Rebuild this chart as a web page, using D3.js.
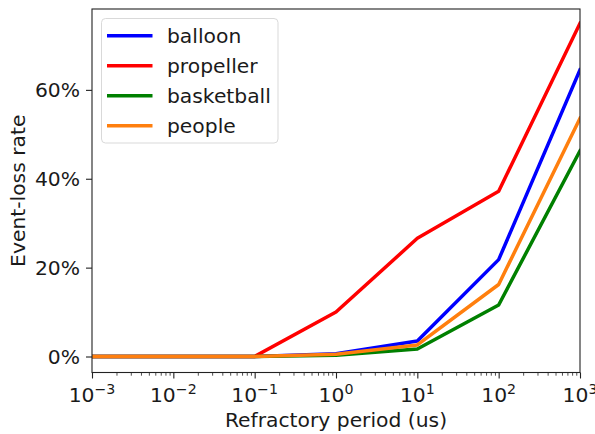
<!DOCTYPE html>
<html>
<head>
<meta charset="utf-8">
<script src="https://cdn.jsdelivr.net/npm/d3@7"></script>
<style>
  html, body { margin: 0; padding: 0; background: #fff; }
  svg { display: block; font-family: "DejaVu Sans", sans-serif; }
</style>
</head>
<body>
<svg id="chart" width="595" height="434"></svg>
<script>
// Refractory periods (us) on a log axis
const periods = [1e-3, 1e-2, 1e-1, 1e0, 1e1, 1e2, 1e3];

// Event-loss rate (%) per dataset
const balloon    = [0, 0, 0, 0.6, 3.5, 21.8, 64.5];
const propeller  = [0, 0, 0, 10.0, 26.6, 37.2, 75.0];
const basketball = [0, 0, 0, 0.3, 1.7, 11.6, 46.3];
const people     = [0, 0, 0, 0.5, 2.6, 16.2, 53.6];

const seriesNames  = ["balloon", "propeller", "basketball", "people"];
const seriesColors = ["#0000ff", "#ff0000", "#008000", "#ff7f0e"];
const seriesValues = [balloon, propeller, basketball, people];

const yTicks = [0, 20, 40, 60];
const xExponents = [-3, -2, -1, 0, 1, 2, 3];

const W = 595, H = 434;
const plot = { left: 92, right: 580, top: 9, bottom: 372.5 };
const FS = 20.3;
const svg = d3.select("#chart");

const x = d3.scaleLog().domain([1e-3, 1e3]).range([plot.left, plot.right]);
const y = d3.scaleLinear().domain([-3.6, 78.2]).range([plot.bottom, plot.top]);

svg.append("clipPath").attr("id", "plotclip")
  .append("rect")
  .attr("x", plot.left).attr("y", plot.top)
  .attr("width", plot.right - plot.left).attr("height", plot.bottom - plot.top);

// Lines
const line = d3.line().x(d => x(d[0])).y(d => y(d[1]));
const linesG = svg.append("g").attr("clip-path", "url(#plotclip)");
seriesValues.forEach((vals, i) => {
  linesG.append("path")
    .datum(periods.map((p, j) => [p, vals[j]]))
    .attr("d", line)
    .attr("fill", "none")
    .attr("stroke", seriesColors[i])
    .attr("stroke-width", 3.5)
    .attr("stroke-linejoin", "round")
    .attr("stroke-linecap", "square");
});

// Frame
svg.append("rect")
  .attr("x", plot.left).attr("y", plot.top)
  .attr("width", plot.right - plot.left)
  .attr("height", plot.bottom - plot.top)
  .attr("fill", "none").attr("stroke", "#222").attr("stroke-width", 1.1);

// X axis: minor ticks for 2..9 in each decade, major ticks at powers of ten
const xAxisG = svg.append("g").attr("transform", `translate(0,${plot.bottom})`);
const minor = [];
for (let e = -3; e < 3; e++) for (let k = 2; k <= 9; k++) minor.push(k * Math.pow(10, e));
xAxisG.call(d3.axisBottom(x).tickValues(minor).tickSize(3.2).tickFormat(""))
  .call(g => g.select(".domain").remove())
  .call(g => g.selectAll("line").attr("stroke", "#222").attr("stroke-width", 0.8));
const xMajor = svg.append("g").attr("transform", `translate(0,${plot.bottom})`);
xMajor.call(d3.axisBottom(x).tickValues(xExponents.map(e => Math.pow(10, e))).tickSize(6).tickFormat(""))
  .call(g => g.select(".domain").remove())
  .call(g => g.selectAll("line").attr("stroke", "#222").attr("stroke-width", 1.1));
xExponents.forEach(e => {
  const t = svg.append("text")
    .attr("x", x(Math.pow(10, e)))
    .attr("y", 402)
    .attr("text-anchor", "middle")
    .attr("font-size", FS)
    .attr("fill", "#1a1a1a");
  t.append("tspan").text("10");
  t.append("tspan").attr("dy", -8).attr("font-size", 14.2)
    .text(e < 0 ? "\u2212" + Math.abs(e) : String(e));
});

// Y axis
const yAxisG = svg.append("g").attr("transform", `translate(${plot.left},0)`);
yAxisG.call(d3.axisLeft(y).tickValues(yTicks).tickSize(6).tickPadding(6).tickFormat(d => d + "%"))
  .call(g => g.select(".domain").remove())
  .call(g => g.selectAll("line").attr("stroke", "#222").attr("stroke-width", 1.1))
  .call(g => g.selectAll("text").attr("font-size", FS).attr("fill", "#1a1a1a")
    .attr("font-family", "DejaVu Sans, sans-serif"));

// Axis titles
svg.append("text")
  .attr("x", (plot.left + plot.right) / 2)
  .attr("y", 427)
  .attr("text-anchor", "middle")
  .attr("font-size", FS).attr("fill", "#1a1a1a")
  .text("Refractory period (us)");
svg.append("text")
  .attr("transform", `translate(25,${(plot.top + plot.bottom) / 2}) rotate(-90)`)
  .attr("text-anchor", "middle")
  .attr("font-size", FS).attr("fill", "#1a1a1a")
  .text("Event-loss rate");

// Legend
const lg = svg.append("g").attr("transform", "translate(101.5,18.5)");
lg.append("rect")
  .attr("x", 0).attr("y", 0).attr("width", 176.5).attr("height", 124.5)
  .attr("rx", 4).attr("fill", "#fff").attr("fill-opacity", 0.8)
  .attr("stroke", "#d9d9d9").attr("stroke-width", 1);
seriesNames.forEach((name, i) => {
  const yy = 17.2 + i * 30;
  lg.append("line")
    .attr("x1", 5.5).attr("x2", 51).attr("y1", yy).attr("y2", yy)
    .attr("stroke", seriesColors[i]).attr("stroke-width", 3.5);
  lg.append("text")
    .attr("x", 65.5).attr("y", yy + 7.5)
    .attr("font-size", FS).attr("fill", "#1a1a1a")
    .text(name);
});
</script>
</body>
</html>
